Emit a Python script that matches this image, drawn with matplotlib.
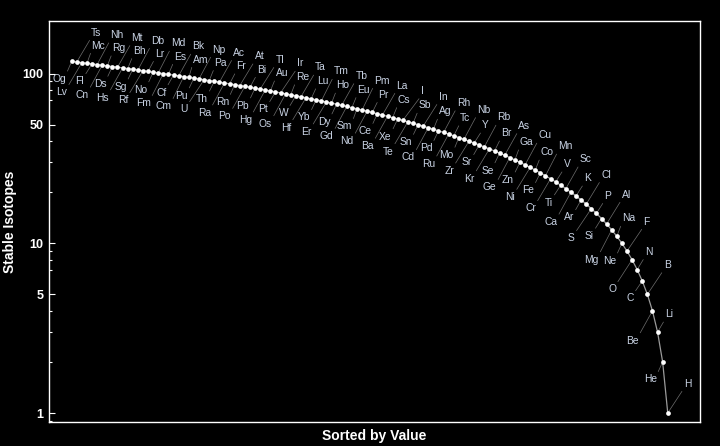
import numpy as np
from matplotlib import pyplot as plt
from matplotlib.ticker import FixedLocator, NullFormatter

# element symbols, in order of atomic number
symbols = ['H', 'He', 'Li', 'Be', 'B', 'C', 'N', 'O', 'F', 'Ne',
           'Na', 'Mg', 'Al', 'Si', 'P', 'S', 'Cl', 'Ar', 'K', 'Ca',
           'Sc', 'Ti', 'V', 'Cr', 'Mn', 'Fe', 'Co', 'Ni', 'Cu', 'Zn',
           'Ga', 'Ge', 'As', 'Se', 'Br', 'Kr', 'Rb', 'Sr', 'Y', 'Zr',
           'Nb', 'Mo', 'Tc', 'Ru', 'Rh', 'Pd', 'Ag', 'Cd', 'In', 'Sn',
           'Sb', 'Te', 'I', 'Xe', 'Cs', 'Ba', 'La', 'Ce', 'Pr', 'Nd',
           'Pm', 'Sm', 'Eu', 'Gd', 'Tb', 'Dy', 'Ho', 'Er', 'Tm', 'Yb',
           'Lu', 'Hf', 'Ta', 'W', 'Re', 'Os', 'Ir', 'Pt', 'Au', 'Hg',
           'Tl', 'Pb', 'Bi', 'Po', 'At', 'Rn', 'Fr', 'Ra', 'Ac', 'Th',
           'Pa', 'U', 'Np', 'Pu', 'Am', 'Cm', 'Bk', 'Cf', 'Es', 'Fm',
           'Md', 'No', 'Lr', 'Rf', 'Db', 'Sg', 'Bh', 'Hs', 'Mt', 'Ds',
           'Rg', 'Cn', 'Nh', 'Fl', 'Mc', 'Lv', 'Ts', 'Og']

values = [1, 2, 3, 4, 5, 6, 7, 8, 9, 10,
          11, 12, 13, 14, 15, 16, 17, 18, 19, 20,
          21, 22, 23, 24, 25, 26, 27, 28, 29, 30,
          31, 32, 33, 34, 35, 36, 37, 38, 39, 40,
          41, 42, 43, 44, 45, 46, 47, 48, 49, 50,
          51, 52, 53, 54, 55, 56, 57, 58, 59, 60,
          61, 62, 63, 64, 65, 66, 67, 68, 69, 70,
          71, 72, 73, 74, 75, 76, 77, 78, 79, 80,
          81, 82, 83, 84, 85, 86, 87, 88, 89, 90,
          91, 92, 93, 94, 95, 96, 97, 98, 99, 100,
          101, 102, 103, 104, 105, 106, 107, 108, 109, 110,
          111, 112, 113, 114, 115, 116, 117, 118]

major_ticks = [1, 5, 10, 50, 100]
minor_ticks = [0.9, 2, 3, 4, 7, 8, 9, 20, 30, 40, 70, 80, 90]

plt.rcParams['font.family'] = ['Liberation Sans', 'DejaVu Sans']

order = np.argsort(values)[::-1]
y = np.array(values)[order]
labels = [symbols[k] for k in order]
x = np.arange(1, len(y) + 1)

fig = plt.figure(figsize=(7.2, 4.46), dpi=100, facecolor='black')
ax = fig.add_axes([0.068, 0.0538, 0.904, 0.899])
ax.set_facecolor('black')

ax.plot(x, y, color='#9a9a9a', lw=0.9, zorder=2)
ax.plot(x, y, 'o', color='white', markersize=3.4, markeredgewidth=0, zorder=3)

# callouts cycle: below-near, above-far, below-far, above-near
offsets = [(-8.8, -12.6), (14.2, 21.2), (-14.4, -21.4), (8.3, 12.8)]
for i, (xi, yi, lab) in enumerate(zip(x, y, labels)):
    dx, dy = offsets[i % 4]
    rel = (0, 0) if dy > 0 else (1, 1)
    ax.annotate(lab, xy=(xi, yi), xytext=(dx, dy), textcoords='offset points',
                ha='center', va='center', fontsize=7.4, color='#c9d3e4',
                arrowprops=dict(arrowstyle='-', color='#6e6e6e', lw=0.5,
                                relpos=rel, shrinkA=0, shrinkB=1.5),
                zorder=1)

ax.set_yscale('log')
ax.set_xlim(-3.45, 124.3)
ax.set_ylim(0.885, 204)
ax.yaxis.set_major_locator(FixedLocator(major_ticks))
ax.yaxis.set_minor_locator(FixedLocator(minor_ticks))
ax.yaxis.set_minor_formatter(NullFormatter())
ax.set_yticklabels([str(t) for t in major_ticks])
ax.set_xticks([])

ax.tick_params(axis='y', which='major', direction='in', length=4, width=0.8,
               colors='white', labelsize=9, pad=4)
ax.tick_params(axis='y', which='minor', direction='in', length=2.2, width=0.8,
               colors='white')
for t in ax.get_yticklabels():
    t.set_fontweight('bold')
for s in ax.spines.values():
    s.set_color('white')
    s.set_linewidth(1.0)

ax.set_xlabel('Sorted by Value', color='white', fontsize=10, fontweight='bold', labelpad=5)
ax.set_ylabel('Stable Isotopes', color='white', fontsize=10, fontweight='bold', labelpad=4)

fig.savefig('out.png', dpi=100, facecolor='black')
